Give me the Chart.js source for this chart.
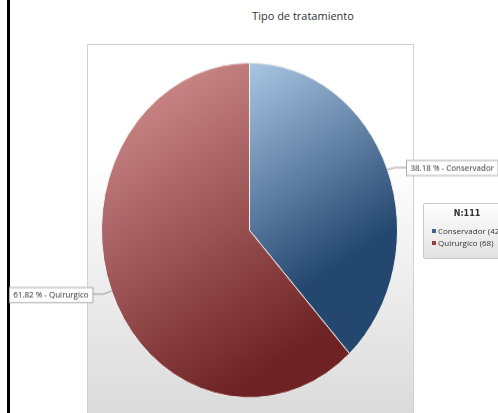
<!DOCTYPE html>
<html>
<head>
<meta charset="utf-8">
<script src="https://cdn.jsdelivr.net/npm/chart.js@4/dist/chart.umd.min.js"></script>
<style>
  body { margin: 0; width: 498px; height: 413px; overflow: hidden; background: #fff; position: relative; font-family: 'Open Sans', sans-serif; }
  #edge { position: absolute; left: 7px; top: 0; width: 3px; height: 413px; background: #000; }
  #title { position: absolute; left: 203px; width: 200px; top: 8px; text-align: center; font-size: 11px; color: #333; }
  #panel { position: absolute; left: 87px; top: 44px; width: 325px; height: 380px; border: 1px solid #d2d2d2;
           background: linear-gradient(#fff 0%, #fff 30%, #d9d9d9 100%); }
  #wrap { position: absolute; left: 0; top: 0; width: 498px; height: 365px; transform: scaleY(1.1315); transform-origin: 0 0; }
  #legend { position: absolute; left: 423px; top: 203px; width: 80px; height: 54px; border: 1px solid #c8c8c8; border-radius: 2px;
            background: linear-gradient(#fff, #e2e2e2); font-size: 8px; color: #333; }
  #legend .hd { position: absolute; left: 0; width: 86px; top: 5px; text-align: center; font-family: 'DejaVu Sans', sans-serif; font-weight: bold; font-size: 8px; }
  #legend .it { position: absolute; left: 8px; white-space: nowrap; }
  #legend .mk { display: inline-block; width: 4px; height: 4px; margin-right: 2px; vertical-align: 1px; }
</style>
</head>
<body>
<div id="edge"></div>
<div id="title">Tipo de tratamiento</div>
<div id="panel"></div>
<div id="wrap"><canvas id="pie" width="498" height="365" style="width:498px;height:365px"></canvas></div>
<div id="legend"></div>
<script>
const categories = ['Conservador', 'Quirurgico'];
const counts = [42, 68];
const sampleSize = 111;
const lightColors = ['#a9c5e3', '#cc8888'];
const darkColors = ['#24476f', '#6e2224'];
const markerColors = ['#3d6391', '#9b3a3c'];

const S = 413 / 365;
const total = counts.reduce((a, b) => a + b, 0);
const pct = counts.map(v => (v / total * 100).toFixed(2));

// legend box
const lg = document.getElementById('legend');
let html = '<div class="hd">N:' + sampleSize + '</div>';
categories.forEach((c, i) => {
    html += '<div class="it" style="top:' + (21 + i * 12) + 'px"><span class="mk" style="background:' + markerColors[i] + '"></span>' +
        c + ' (' + counts[i] + ')</div>';
});
lg.innerHTML = html;

function sliceFill(c){
    const chart = c.chart;
    const area = chart.chartArea;
    if(!area) return lightColors[c.dataIndex];
    const g = c.dataIndex === 0
        ? chart.ctx.createLinearGradient(255, 62 / S, 355, 255 / S)
        : chart.ctx.createLinearGradient(130, 95 / S, 270, 370 / S);
    g.addColorStop(0, lightColors[c.dataIndex]);
    g.addColorStop(1, darkColors[c.dataIndex]);
    return g;
}

const sliceLabels = {
    id: 'sliceLabels',
    afterDatasetsDraw(chart){
        const ctx = chart.ctx;
        const meta = chart.getDatasetMeta(0);
        ctx.save();
        ctx.scale(1, 1 / S);
        ctx.font = '8px "Open Sans"';
        ctx.lineWidth = 1;
        meta.data.forEach((arc, i) => {
            const mid = (arc.startAngle + arc.endAngle) / 2;
            const ex = arc.x + Math.cos(mid) * arc.outerRadius;
            const ey = (arc.y + Math.sin(mid) * arc.outerRadius) * S;
            const dir = Math.cos(mid) >= 0 ? 1 : -1;
            const ky = ey + (Math.sin(mid) < 0 ? -2 : 3);
            const kx = ex + dir * 8;
            const bx = ex + dir * 19;
            ctx.strokeStyle = '#9a9a9a';
            ctx.beginPath();
            ctx.moveTo(ex, ey);
            ctx.lineTo(kx, ky);
            ctx.lineTo(bx, ky);
            ctx.stroke();
            const text = pct[i] + ' % - ' + categories[i];
            const w = ctx.measureText(text).width + 8;
            const left = dir > 0 ? bx : bx - w;
            const top = Math.round(ky - 7.5) + 0.5;
            ctx.fillStyle = '#fff';
            ctx.fillRect(Math.round(left) + 0.5, top, w, 15);
            ctx.strokeStyle = '#a8a8a8';
            ctx.strokeRect(Math.round(left) + 0.5, top, w, 15);
            ctx.fillStyle = '#333';
            ctx.textBaseline = 'middle';
            ctx.fillText(text, left + 4, top + 8);
        });
        ctx.restore();
    }
};

new Chart(document.getElementById('pie'), {
    type: 'pie',
    data: {
        labels: categories,
        datasets: [{ data: counts, backgroundColor: sliceFill, borderColor: '#f2f2f2', borderWidth: 1 }]
    },
    options: {
        responsive: false,
        animation: false,
        layout: { padding: { left: 101, right: 100, top: 55, bottom: 13 } },
        plugins: { legend: { display: false }, tooltip: { enabled: false }, title: { display: false } }
    },
    plugins: [sliceLabels]
});
</script>
</body>
</html>
